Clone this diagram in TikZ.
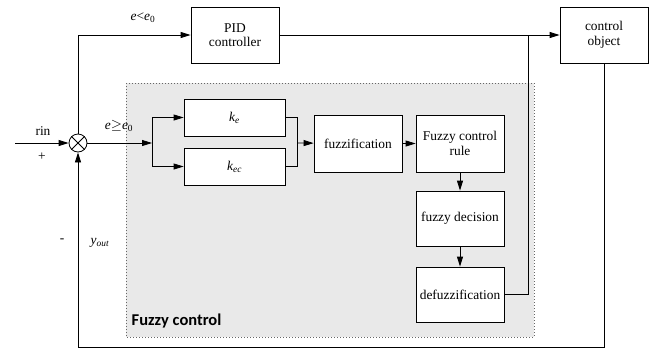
\documentclass[tikz,border=0pt]{standalone}
\usepackage{fontspec}
\setmainfont{Liberation Serif}
\newfontfamily\labelfont{Carlito}
\usetikzlibrary{arrows.meta}

\begin{document}
\begin{tikzpicture}[
            x=1pt, y=-1pt,
            font=\fontsize{13.4}{14.5}\selectfont,
            line width=0.8pt,
            >={Triangle[length=10pt,width=6pt]},
            every node/.style={align=center},
            block/.style={draw,fill=white,rectangle,inner sep=1pt,minimum width=88pt,minimum height=56pt},
            gain/.style={block,minimum width=101pt,minimum height=37pt},
            junction/.style={draw,circle,fill=white,minimum size=18pt,inner sep=0pt},
            ]
            \useasboundingbox (0,0) rectangle (656,349);
            % fuzzy control area
            \draw[gray!80!black, dotted, line width=1pt, fill=gray!17] (126,83) rectangle (534,337);
            \node[font=\labelfont\fontsize{16.5}{18}\selectfont\bfseries, anchor=west] (fuzzylabel) at (128,321) {Fuzzy control};

            % blocks
            \node[block] (pid) at (235,35) {PID\\controller};
            \node[block] (plant) at (604,35) {control\\object};
            \node[junction] (sum) at (78,143) {};
            \draw (sum.north west) -- (sum.south east);
            \draw (sum.north east) -- (sum.south west);
            \node[gain] (ke) at (234.5,117.5) {\textit{k}\textsubscript{\textit{e}}};
            \node[gain] (kec) at (234.5,166.5) {\textit{k}\textsubscript{\textit{ec}}};
            \node[block,minimum height=57pt] (fuzz) at (358,143.5) {fuzzification};
            \node[block,minimum height=57pt] (rule) at (460,143.5) {Fuzzy control\\rule};
            \node[block,minimum height=55pt] (decision) at (460,218.5) {fuzzy decision};
            \node[block,minimum height=55pt] (defuzz) at (460,294.5) {defuzzification};

            \coordinate (rin) at (15,143);
            \coordinate (split) at (152,143);
            \coordinate (merge) at (297,143);
            \coordinate (tap) at (528,35);
            \coordinate (back) at (78,347);

            % labels
            \node (lrin) at (43,131) {rin};
            \node (lplus) at (42,157) {+};
            \node (lminus) at (62,241) {-};
            \node (lyout) at (100,243) {\textit{y}\textsubscript{\textit{out}}};
            \node (lless) at (143,18) {\textit{e}<\textit{e}\textsubscript{0}};
            \node (lgeq) at (119,126) {\textit{e}$\geq$\textit{e}\textsubscript{0}};

            % connectors
            \draw[->] (rin) -- (sum);
            \draw[->] (sum) -- (split);
            \draw[->] (split) |- (ke);
            \draw[->] (split) |- (kec);
            \draw (ke) -| (merge);
            \draw (kec) -| (merge);
            \draw[->] (merge) -- (fuzz);
            \draw[->] (fuzz) -- (rule);
            \draw[->] (rule) -- (decision);
            \draw[->] (decision) -- (defuzz);
            \draw (defuzz) -| (tap);
            \draw[->] (sum) |- (pid);
            \draw[->] (pid) -- (plant);
            \draw[->] (plant) |- (back) -- (sum);
        \end{tikzpicture}
\end{document}
